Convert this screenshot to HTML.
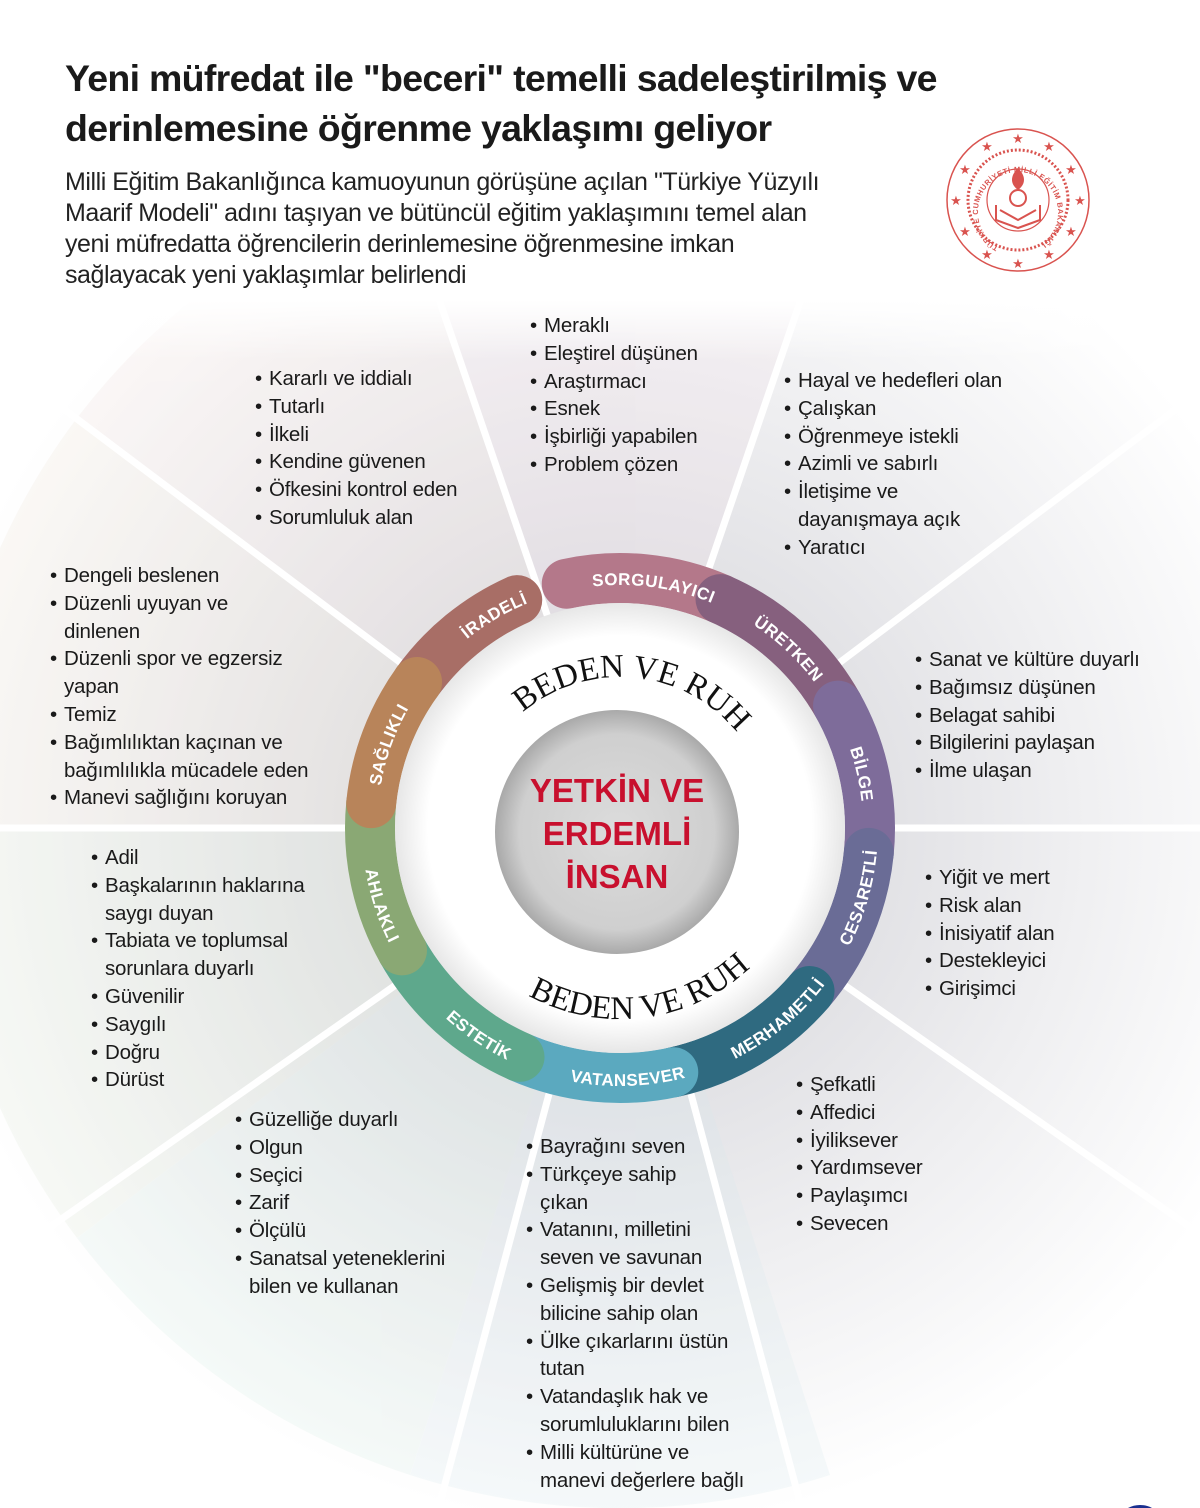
<!DOCTYPE html>
<html><head><meta charset="utf-8">
<style>
html,body{margin:0;padding:0;background:#fff;}
body{width:1200px;height:1508px;position:relative;overflow:hidden;font-family:"Liberation Sans","DejaVu Sans",sans-serif;color:#1a1a1a;}
.t{position:absolute;left:65px;font-weight:bold;font-size:37.5px;line-height:50px;top:53px;color:#1a1a1a;letter-spacing:-0.7px;white-space:nowrap}
.p{position:absolute;left:65px;top:167px;font-size:25px;line-height:31px;color:#222;letter-spacing:-0.45px;white-space:nowrap}
.l{position:absolute;font-size:20.5px;line-height:27.8px;color:#1a1a1a;margin:0;padding:0;list-style:none;letter-spacing:-0.2px}
.l li{position:relative;padding-left:14px}
.l li:before{content:"•";position:absolute;left:0}
.l li.c:before{content:""}
</style></head><body>
<svg width="1200" height="1508" style="position:absolute;left:0;top:0">
<defs>
<radialGradient id="bg" cx="620" cy="828" r="700" gradientUnits="userSpaceOnUse">
<stop offset="0.3" stop-color="#dedee2"/>
<stop offset="0.65" stop-color="#efeff1"/>
<stop offset="1" stop-color="#ffffff"/>
</radialGradient>
<linearGradient id="topfade" x1="0" y1="300" x2="0" y2="360" gradientUnits="userSpaceOnUse">
<stop offset="0" stop-color="#fff" stop-opacity="1"/>
<stop offset="1" stop-color="#fff" stop-opacity="0"/>
</linearGradient>
<radialGradient id="gc" cx="617" cy="832" r="122" gradientUnits="userSpaceOnUse">
<stop offset="0" stop-color="#dcdcdc"/>
<stop offset="0.8" stop-color="#cfcfcf"/>
<stop offset="1" stop-color="#a9a9a9"/>
</radialGradient>
<radialGradient id="wc" cx="620" cy="828" r="226" gradientUnits="userSpaceOnUse">
<stop offset="0.85" stop-color="#ffffff"/>
<stop offset="1" stop-color="#e6e6e6"/>
</radialGradient>
<clipPath id="cl"><rect x="0" y="300" width="1200" height="1208"/></clipPath>
<path id="cw243" d="M620,1071 A243,243 0 1 1 620,585 A243,243 0 1 1 620,1071"/>
<path id="ccw258" d="M620,570 A258,258 0 1 0 620,1086 A258,258 0 1 0 620,570"/>
<path id="cw151" d="M620,979 A151,151 0 1 1 620,677 A151,151 0 1 1 620,979"/>
<path id="ccw191" d="M620,637 A191,191 0 1 0 620,1019 A191,191 0 1 0 620,637"/>
<path id="logoTxt" d="M1018,252 A40,40 0 1 1 1018,172 A40,40 0 1 1 1018,252"/>
</defs>
<g clip-path="url(#cl)">
<rect x="0" y="300" width="1200" height="1208" fill="url(#bg)"/>
<g opacity="0.22">
<path d="M620,828 L404,185 A680,680 0 0 1 836,185 Z" fill="#f0dde6"/>
<path d="M620,828 L77,418 A680,680 0 0 1 404,185 Z" fill="#f0e0dc"/>
<path d="M620,828 L77,418 A680,680 0 0 0 -60,828 Z" fill="#f0e6d8"/>
<path d="M620,828 L-60,828 A680,680 0 0 0 77,1238 Z" fill="#e0ead8"/>
<path d="M620,828 L77,1238 A680,680 0 0 0 410,1475 Z" fill="#d8ece4"/>
<path d="M620,828 L410,1475 A680,680 0 0 0 830,1475 Z" fill="#d8e8ee"/>
</g>
<rect x="0" y="300" width="1200" height="60" fill="url(#topfade)"/>
<g stroke="#fff" stroke-width="7">
<line x1="620" y1="828" x2="377" y2="118"/>
<line x1="620" y1="828" x2="863" y2="118"/>
<line x1="620" y1="828" x2="20" y2="376"/>
<line x1="620" y1="828" x2="1220" y2="376"/>
<line x1="620" y1="828" x2="-20" y2="828"/>
<line x1="620" y1="828" x2="1220" y2="828"/>
<line x1="620" y1="828" x2="40" y2="1234"/>
<line x1="620" y1="828" x2="1200" y2="1234"/>
<line x1="620" y1="828" x2="430" y2="1540"/>
<line x1="620" y1="828" x2="810" y2="1540"/>
</g>
</g>
<g fill="none" stroke-width="50" stroke-linecap="round">
<circle cx="620" cy="828" r="250" stroke="#a86e66" stroke-dasharray="131 2000" transform="rotate(-144.3 620 828)"/>
<circle cx="620" cy="828" r="250" stroke="#b4788a" stroke-dasharray="157 2000" transform="rotate(-102.3 620 828)"/>
<circle cx="620" cy="828" r="250" stroke="#86607e" stroke-dasharray="161 2000" transform="rotate(-66.3 620 828)"/>
<circle cx="620" cy="828" r="250" stroke="#7e6c9a" stroke-dasharray="153 2000" transform="rotate(-29.3 620 828)"/>
<circle cx="620" cy="828" r="250" stroke="#6a6c96" stroke-dasharray="153 2000" transform="rotate(5.7 620 828)"/>
<circle cx="620" cy="828" r="250" stroke="#2f6a80" stroke-dasharray="161 2000" transform="rotate(40.7 620 828)"/>
<circle cx="620" cy="828" r="250" stroke="#5ba9bf" stroke-dasharray="157 2000" transform="rotate(77.7 620 828)"/>
<circle cx="620" cy="828" r="250" stroke="#5ea88c" stroke-dasharray="161 2000" transform="rotate(113.7 620 828)"/>
<circle cx="620" cy="828" r="250" stroke="#8aa874" stroke-dasharray="153 2000" transform="rotate(150.7 620 828)"/>
<circle cx="620" cy="828" r="250" stroke="#b8845a" stroke-dasharray="131 2000" transform="rotate(185.7 620 828)"/>
</g>
<circle cx="620" cy="828" r="225" fill="url(#wc)"/>
<circle cx="617" cy="832" r="122" fill="url(#gc)"/>
<g font-family="Liberation Sans, sans-serif" font-weight="bold" font-size="17" fill="#fff" letter-spacing="0.5">
<text><textPath href="#cw243" startOffset="41.5%" text-anchor="middle">İRADELİ</textPath></text>
<text><textPath href="#cw243" startOffset="52.2%" text-anchor="middle">SORGULAYICI</textPath></text>
<text><textPath href="#cw243" startOffset="62%" text-anchor="middle">ÜRETKEN</textPath></text>
<text><textPath href="#cw243" startOffset="71.5%" text-anchor="middle">BİLGE</textPath></text>
<text><textPath href="#cw243" startOffset="30.5%" text-anchor="middle">SAĞLIKLI</textPath></text>
<text><textPath href="#ccw258" startOffset="30%" text-anchor="middle">AHLAKLI</textPath></text>
<text><textPath href="#ccw258" startOffset="40.5%" text-anchor="middle">ESTETİK</textPath></text>
<text><textPath href="#ccw258" startOffset="50.5%" text-anchor="middle">VATANSEVER</textPath></text>
<text><textPath href="#ccw258" startOffset="61%" text-anchor="middle">MERHAMETLİ</textPath></text>
<text><textPath href="#ccw258" startOffset="70.5%" text-anchor="middle">CESARETLİ</textPath></text>
</g>
<g font-family="Liberation Serif, serif" font-size="33" fill="#111">
<text><textPath href="#cw151" startOffset="51.5%" text-anchor="middle">BEDEN VE RUH</textPath></text>
<text><textPath href="#ccw191" startOffset="52%" text-anchor="middle">BEDEN VE RUH</textPath></text>
</g>
<g font-family="Liberation Sans, sans-serif" font-weight="bold" font-size="33" fill="#c8102e" text-anchor="middle">
<text x="617" y="802">YETKİN VE</text>
<text x="617" y="845">ERDEMLİ</text>
<text x="617" y="888">İNSAN</text>
</g>
<g fill="none" stroke="#d9534f">
<circle cx="1018" cy="200" r="71" stroke-width="1.5"/>
<circle cx="1018" cy="200" r="50" stroke-width="3" stroke-dasharray="2 2"/>
<circle cx="1018" cy="200" r="31" stroke-width="1.2"/>
<path d="M996,205 L996,220 L1018,228 L1040,220 L1040,205 M1000,210 L1018,220 L1036,210" stroke-width="2"/>
<circle cx="1018" cy="198" r="8" stroke-width="2"/>
</g>
<path d="M1018,168 C1010,176 1010,184 1018,190 C1026,184 1026,176 1018,168 Z" fill="#d9534f"/>
<g fill="#d9534f" font-size="13" text-anchor="middle" font-family="DejaVu Sans, sans-serif">
<text x="1018" y="143">★</text><text x="1049" y="151">★</text><text x="1071" y="174">★</text>
<text x="1080" y="205">★</text><text x="1071" y="236">★</text><text x="1049" y="259">★</text>
<text x="1018" y="268">★</text><text x="987" y="259">★</text><text x="965" y="236">★</text>
<text x="956" y="205">★</text><text x="965" y="174">★</text><text x="987" y="151">★</text>
</g>
<text font-family="Liberation Sans, sans-serif" font-size="7.5" font-weight="bold" fill="#d9534f" letter-spacing="0.6"><textPath href="#logoTxt" startOffset="8%">TÜRKİYE CUMHURİYETİ MİLLİ EĞİTİM BAKANLIĞI</textPath></text>
<circle cx="1140" cy="1530" r="22" fill="none" stroke="#1a2f8f" stroke-width="6"/>
</svg>

<div class="t">Yeni müfredat ile "beceri" temelli sadeleştirilmiş ve<br>derinlemesine öğrenme yaklaşımı geliyor</div>
<div class="p">Milli Eğitim Bakanlığınca kamuoyunun görüşüne açılan "Türkiye Yüzyılı<br>Maarif Modeli" adını taşıyan ve bütüncül eğitim yaklaşımını temel alan<br>yeni müfredatta öğrencilerin derinlemesine öğrenmesine imkan<br>sağlayacak yeni yaklaşımlar belirlendi</div>

<ul class="l" style="left:530px;top:312px"><li>Meraklı</li><li>Eleştirel düşünen</li><li>Araştırmacı</li><li>Esnek</li><li>İşbirliği yapabilen</li><li>Problem çözen</li></ul>
<ul class="l" style="left:255px;top:365px"><li>Kararlı ve iddialı</li><li>Tutarlı</li><li>İlkeli</li><li>Kendine güvenen</li><li>Öfkesini kontrol eden</li><li>Sorumluluk alan</li></ul>
<ul class="l" style="left:784px;top:367px"><li>Hayal ve hedefleri olan</li><li>Çalışkan</li><li>Öğrenmeye istekli</li><li>Azimli ve sabırlı</li><li>İletişime ve</li><li class="c">dayanışmaya açık</li><li>Yaratıcı</li></ul>
<ul class="l" style="left:50px;top:562px"><li>Dengeli beslenen</li><li>Düzenli uyuyan ve</li><li class="c">dinlenen</li><li>Düzenli spor ve egzersiz</li><li class="c">yapan</li><li>Temiz</li><li>Bağımlılıktan kaçınan ve</li><li class="c">bağımlılıkla mücadele eden</li><li>Manevi sağlığını koruyan</li></ul>
<ul class="l" style="left:915px;top:646px"><li>Sanat ve kültüre duyarlı</li><li>Bağımsız düşünen</li><li>Belagat sahibi</li><li>Bilgilerini paylaşan</li><li>İlme ulaşan</li></ul>
<ul class="l" style="left:91px;top:844px"><li>Adil</li><li>Başkalarının haklarına</li><li class="c">saygı duyan</li><li>Tabiata ve toplumsal</li><li class="c">sorunlara duyarlı</li><li>Güvenilir</li><li>Saygılı</li><li>Doğru</li><li>Dürüst</li></ul>
<ul class="l" style="left:925px;top:864px"><li>Yiğit ve mert</li><li>Risk alan</li><li>İnisiyatif alan</li><li>Destekleyici</li><li>Girişimci</li></ul>
<ul class="l" style="left:796px;top:1071px"><li>Şefkatli</li><li>Affedici</li><li>İyiliksever</li><li>Yardımsever</li><li>Paylaşımcı</li><li>Sevecen</li></ul>
<ul class="l" style="left:235px;top:1106px"><li>Güzelliğe duyarlı</li><li>Olgun</li><li>Seçici</li><li>Zarif</li><li>Ölçülü</li><li>Sanatsal yeteneklerini</li><li class="c">bilen ve kullanan</li></ul>
<ul class="l" style="left:526px;top:1133px"><li>Bayrağını seven</li><li>Türkçeye sahip</li><li class="c">çıkan</li><li>Vatanını, milletini</li><li class="c">seven ve savunan</li><li>Gelişmiş bir devlet</li><li class="c">bilicine sahip olan</li><li>Ülke çıkarlarını üstün</li><li class="c">tutan</li><li>Vatandaşlık hak ve</li><li class="c">sorumluluklarını bilen</li><li>Milli kültürüne ve</li><li class="c">manevi değerlere bağlı</li></ul>
</body></html>
